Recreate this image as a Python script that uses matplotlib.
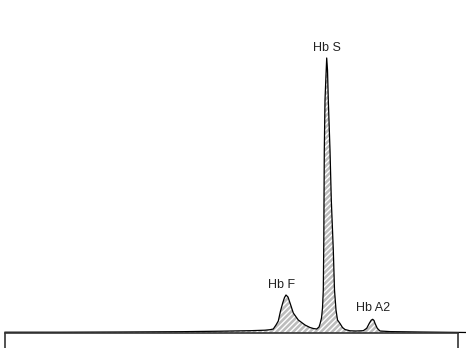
import matplotlib
matplotlib.use("Agg")
import matplotlib.pyplot as plt

# Retention position (arbitrary units) and detector signal (arbitrary units)
time = [5, 60, 120, 180, 220, 250, 265, 270, 273.3, 276, 278.3, 280.5, 282.7, 284.5, 286,
        288, 290.7, 293.3, 298.3, 305, 310, 313.3, 316.7, 319, 320, 321.5, 322.5, 323.3,
        323.8, 324, 324.3, 325, 326, 326.7, 327.5, 328.3, 330, 331.3, 333.3, 334.5, 336,
        337.5, 340, 342.5, 345, 350, 356, 363.3, 366.7, 369.3, 371.2, 372.7, 374, 375, 377.3,
        380, 390, 420, 458, 466]
signal = [0.8, 0.8, 1.0, 1.3, 1.8, 2.3, 2.8, 3.3, 4.0, 8.0, 12.0, 22.0, 30.0, 35.5, 38.0,
          36.0, 28.0, 20.0, 13.0, 8.0, 5.5, 4.5, 4.0, 6.0, 9.0, 15.0, 25.0, 43.0,
          93.0, 133.0, 183.0, 233.0, 258.0, 275.0, 263.0, 233.0, 183.0, 133.0, 83.0, 43.0, 23.0,
          13.0, 9.5, 5.5, 3.5, 2.2, 2.0, 2.3, 4.7, 9.7, 12.8, 13.7, 12.5, 9.7, 4.7,
          2.0, 1.4, 1.0, 0.6, 0.5]

peak_labels = ["Hb F", "Hb S", "Hb A2"]
peak_time = [282, 327, 373]
peak_height = [38.0, 275.0, 13.7]

fig = plt.figure(figsize=(4.66, 3.5), dpi=100)
ax = fig.add_axes([5 / 466, 17 / 350, 453 / 466, 333 / 350])
ax.set_xlim(5, 458)
ax.set_ylim(0, 333)

ax.fill_between(time, signal, 0, facecolor="#bcbcbc", edgecolor="white",
                hatch="//////", linewidth=0, clip_on=False)
ax.plot(time, signal, color="black", linewidth=0.9, clip_on=False)

offsets = [4, 4, 5]
for lab, t, h, off in zip(peak_labels, peak_time, peak_height, offsets):
    ax.text(t, h + off, lab, ha="center", va="bottom", fontsize=9,
            family=["Liberation Sans", "DejaVu Sans"], color="#222222")

for s in ["left", "right", "top"]:
    ax.spines[s].set_visible(False)
ax.spines["bottom"].set_color("#333333")
ax.spines["bottom"].set_linewidth(1.2)
ax.set_yticks([])
ax.set_xticks([5, 458])
ax.set_xticklabels([])
ax.tick_params(axis="x", direction="out", length=10.8, width=1.2, color="#333333")
ax.patch.set_visible(False)

fig.savefig("out.png", dpi=100)
